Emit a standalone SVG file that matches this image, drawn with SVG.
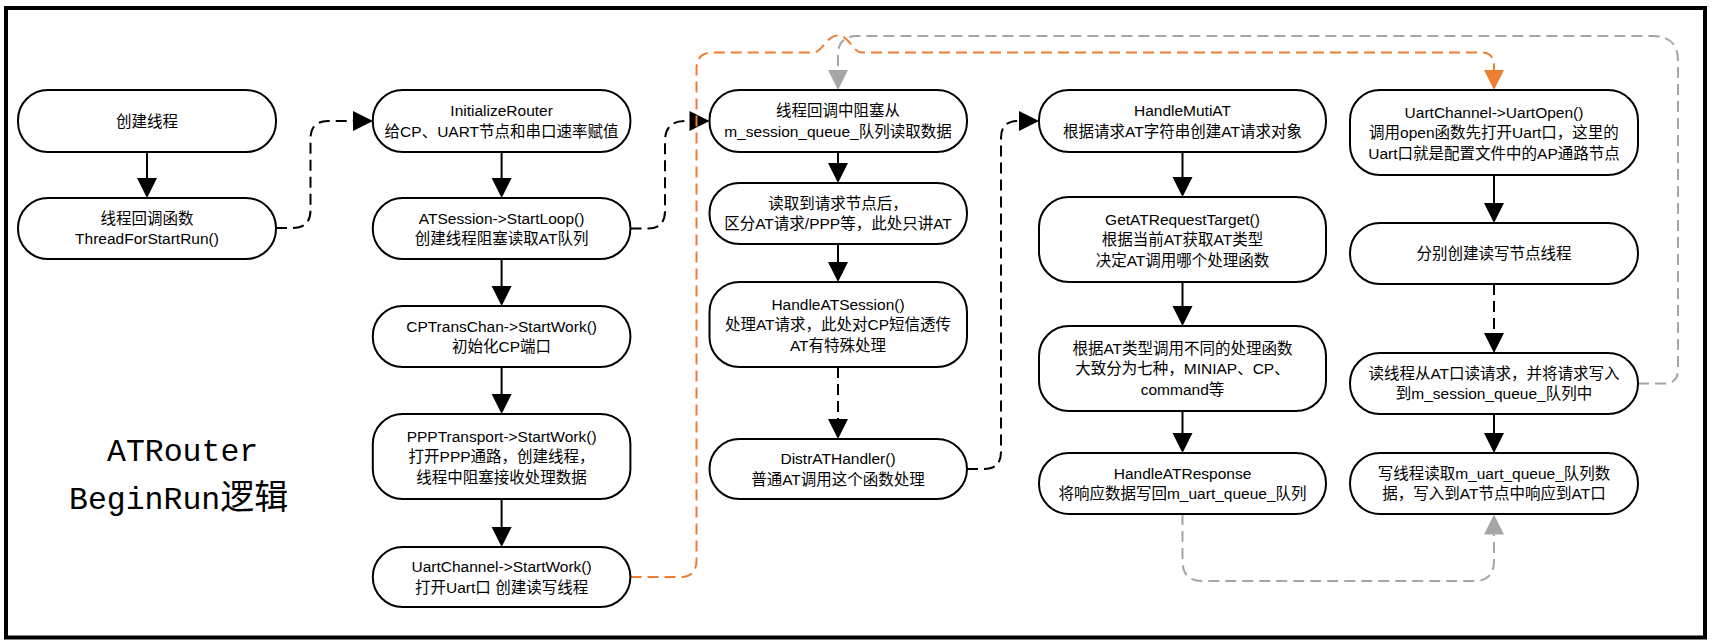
<svg xmlns="http://www.w3.org/2000/svg" width="1712" height="643" viewBox="0 0 1712 643">
<style>
.n rect{fill:#fff;stroke:#000;stroke-width:2}
.t{font-family:"Liberation Sans","Noto Sans CJK SC",sans-serif;font-size:15.5px;text-anchor:middle;fill:#000}
.s{fill:none;stroke:#000;stroke-width:2}
.d{fill:none;stroke:#000;stroke-width:2;stroke-dasharray:11 6}
.o{fill:none;stroke:#ED7D31;stroke-width:2;stroke-dasharray:11 6}
.g{fill:none;stroke:#A6A6A6;stroke-width:2;stroke-dasharray:11 6}
.title{font-family:"Liberation Mono","Noto Sans CJK SC",monospace;font-size:31.5px;fill:#000}
.tcjk{font-family:"Noto Sans CJK SC",sans-serif;font-size:34px}
</style>
<defs>
<marker id="ab" markerUnits="userSpaceOnUse" markerWidth="20" markerHeight="20" refX="0" refY="10" orient="auto" overflow="visible"><path d="M0,0 L20,10 L0,20 z" fill="#000"/></marker>
<marker id="ao" markerUnits="userSpaceOnUse" markerWidth="20" markerHeight="20" refX="0" refY="10" orient="auto" overflow="visible"><path d="M0,0 L20,10 L0,20 z" fill="#ED7D31"/></marker>
<marker id="ag" markerUnits="userSpaceOnUse" markerWidth="20" markerHeight="20" refX="0" refY="10" orient="auto" overflow="visible"><path d="M0,0 L20,10 L0,20 z" fill="#A6A6A6"/></marker>
</defs>
<rect x="0" y="0" width="1712" height="643" fill="#fff"/>
<rect x="6" y="8" width="1699" height="629.5" fill="none" stroke="#000" stroke-width="4"/>

<g id="title">
<text class="title"><tspan x="107" y="461">ATRouter</tspan><tspan x="69" y="509">BeginRun</tspan><tspan class="tcjk">逻辑</tspan></text>
</g>

<g id="connectors">
<path class="s" d="M147,152 V178" marker-end="url(#ab)"/>
<path class="d" d="M276,228 H293 Q310.5,228 310.5,210 V139 Q310.5,121 328,121 H353" marker-end="url(#ab)"/>
<path class="s" d="M501.6,152 V178" marker-end="url(#ab)"/>
<path class="s" d="M501.6,259 V286" marker-end="url(#ab)"/>
<path class="s" d="M501.6,367 V394" marker-end="url(#ab)"/>
<path class="s" d="M501.6,499 V527" marker-end="url(#ab)"/>
<path class="d" d="M630.5,228.5 H648 Q665,228.5 665,211 V141 Q665,121 685,121 H689.5" marker-end="url(#ab)"/>
<path class="s" d="M838,152 V163" marker-end="url(#ab)"/>
<path class="s" d="M838,244 V262" marker-end="url(#ab)"/>
<path class="d" d="M838,367 V419" marker-end="url(#ab)"/>
<path class="d" d="M967,469 H984 Q1001,469 1001,452 V138 Q1001,121 1018,121 H1019" marker-end="url(#ab)"/>
<path class="s" d="M1182.5,152 V177" marker-end="url(#ab)"/>
<path class="s" d="M1182.5,282 V306" marker-end="url(#ab)"/>
<path class="s" d="M1182.5,411 V433" marker-end="url(#ab)"/>
<path class="s" d="M1494,175 V203" marker-end="url(#ab)"/>
<path class="d" d="M1494,284 V333" marker-end="url(#ab)"/>
<path class="s" d="M1494,414 V433" marker-end="url(#ab)"/>
<path class="o" d="M630.5,577 H680 Q696.5,577 696.5,560.5 V69 Q696.5,52.5 713,52.5 H813 C823,52.5 826,35.5 838,35.5 C850,35.5 852,52.5 862,52.5 H1481 Q1494,52.5 1494,65.5 V70" marker-end="url(#ao)"/>
<path class="g" d="M1638,383.5 H1664 Q1678,383.5 1678,369.5 V61 Q1678,36 1653,36 H857 Q838,36 838,55 V70" marker-end="url(#ag)"/>
<path class="g" d="M1182.5,514 V561 Q1182.5,581 1202.5,581 H1474 Q1494,581 1494,561 V534.5" marker-end="url(#ag)"/>
</g>

<g id="n1" class="n"><rect x="18" y="90" width="258" height="62" rx="30"/><text class="t" x="147" y="126.5">创建线程</text></g>
<g id="n2" class="n"><rect x="18" y="198" width="258" height="61" rx="30"/><text class="t"><tspan x="147" y="223.75">线程回调函数</tspan><tspan x="147" y="244.25">ThreadForStartRun()</tspan></text></g>

<g id="n3" class="n"><rect x="372.8" y="90" width="257.6" height="62" rx="30"/><text class="t"><tspan x="501.6" y="116.25">InitializeRouter</tspan><tspan x="501.6" y="136.75">给CP、UART节点和串口速率赋值</tspan></text></g>
<g id="n4" class="n"><rect x="372.8" y="198" width="257.6" height="61" rx="30"/><text class="t"><tspan x="501.6" y="223.75">ATSession-&gt;StartLoop()</tspan><tspan x="501.6" y="244.25">创建线程阻塞读取AT队列</tspan></text></g>
<g id="n5" class="n"><rect x="372.8" y="306" width="257.6" height="61" rx="30"/><text class="t"><tspan x="501.6" y="331.75">CPTransChan-&gt;StartWork()</tspan><tspan x="501.6" y="352.25">初始化CP端口</tspan></text></g>
<g id="n6" class="n"><rect x="372.8" y="414" width="257.6" height="85" rx="30"/><text class="t"><tspan x="501.6" y="441.5">PPPTransport-&gt;StartWork()</tspan><tspan x="501.6" y="462">打开PPP通路，创建线程，</tspan><tspan x="501.6" y="482.5">线程中阻塞接收处理数据</tspan></text></g>
<g id="n7" class="n"><rect x="372.8" y="547" width="257.6" height="60" rx="30"/><text class="t"><tspan x="501.6" y="572.25">UartChannel-&gt;StartWork()</tspan><tspan x="501.6" y="592.75">打开Uart口 创建读写线程</tspan></text></g>

<g id="n8" class="n"><rect x="709.5" y="90" width="257.5" height="62" rx="30"/><text class="t"><tspan x="838" y="116.25">线程回调中阻塞从</tspan><tspan x="838" y="136.75">m_session_queue_队列读取数据</tspan></text></g>
<g id="n9" class="n"><rect x="709.5" y="183" width="257.5" height="61" rx="30"/><text class="t"><tspan x="838" y="208.75">读取到请求节点后，</tspan><tspan x="838" y="229.25">区分AT请求/PPP等，此处只讲AT</tspan></text></g>
<g id="n10" class="n"><rect x="709.5" y="282" width="257.5" height="85" rx="30"/><text class="t"><tspan x="838" y="309.5">HandleATSession()</tspan><tspan x="838" y="330">处理AT请求，此处对CP短信透传</tspan><tspan x="838" y="350.5">AT有特殊处理</tspan></text></g>
<g id="n11" class="n"><rect x="709.5" y="439" width="257.5" height="60" rx="30"/><text class="t"><tspan x="838" y="464.25">DistrATHandler()</tspan><tspan x="838" y="484.75">普通AT调用这个函数处理</tspan></text></g>

<g id="n12" class="n"><rect x="1039" y="90" width="287" height="62" rx="30"/><text class="t"><tspan x="1182.5" y="116.25">HandleMutiAT</tspan><tspan x="1182.5" y="136.75">根据请求AT字符串创建AT请求对象</tspan></text></g>
<g id="n13" class="n"><rect x="1039" y="197" width="287" height="85" rx="30"/><text class="t"><tspan x="1182.5" y="224.5">GetATRequestTarget()</tspan><tspan x="1182.5" y="245">根据当前AT获取AT类型</tspan><tspan x="1182.5" y="265.5">决定AT调用哪个处理函数</tspan></text></g>
<g id="n14" class="n"><rect x="1039" y="326" width="287" height="85" rx="30"/><text class="t"><tspan x="1182.5" y="353.5">根据AT类型调用不同的处理函数</tspan><tspan x="1182.5" y="374">大致分为七种，MINIAP、CP、</tspan><tspan x="1182.5" y="394.5">command等</tspan></text></g>
<g id="n15" class="n"><rect x="1039" y="453" width="287" height="61" rx="30"/><text class="t"><tspan x="1182.5" y="478.75">HandleATResponse</tspan><tspan x="1182.5" y="499.25">将响应数据写回m_uart_queue_队列</tspan></text></g>

<g id="n16" class="n"><rect x="1350" y="90" width="288" height="85" rx="30"/><text class="t"><tspan x="1494" y="117.5">UartChannel-&gt;UartOpen()</tspan><tspan x="1494" y="138">调用open函数先打开Uart口，这里的</tspan><tspan x="1494" y="158.5">Uart口就是配置文件中的AP通路节点</tspan></text></g>
<g id="n17" class="n"><rect x="1350" y="223" width="288" height="61" rx="30"/><text class="t" x="1494" y="259">分别创建读写节点线程</text></g>
<g id="n18" class="n"><rect x="1350" y="353" width="288" height="61" rx="30"/><text class="t"><tspan x="1494" y="378.75">读线程从AT口读请求，并将请求写入</tspan><tspan x="1494" y="399.25">到m_session_queue_队列中</tspan></text></g>
<g id="n19" class="n"><rect x="1350" y="453" width="288" height="61" rx="30"/><text class="t"><tspan x="1494" y="478.75">写线程读取m_uart_queue_队列数</tspan><tspan x="1494" y="499.25">据，写入到AT节点中响应到AT口</tspan></text></g>
</svg>
